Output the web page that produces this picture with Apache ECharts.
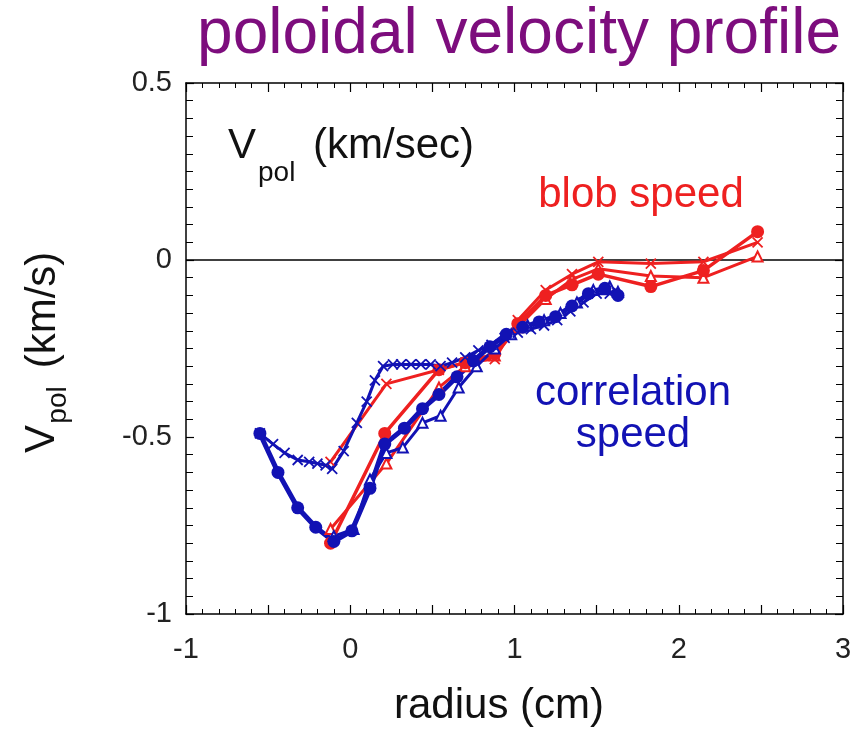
<!DOCTYPE html>
<html>
<head>
<meta charset="utf-8">
<script src="https://cdn.jsdelivr.net/npm/echarts@6/dist/echarts.min.js"></script>
<style>
html,body{margin:0;padding:0;background:#fff;}
#chart{width:859px;height:730px;}
</style>
</head>
<body>
<div id="chart"></div>
<script>
// ---- data (radius cm, V_pol km/s) ----
var xTicks = [-1, 0, 1, 2, 3];
var yTicks = [-1, -0.5, 0, 0.5];

var redCircle = [[-0.12,-0.80],[0.21,-0.49],[0.54,-0.31],[0.70,-0.29],[0.88,-0.265],[1.02,-0.18],[1.19,-0.10],[1.35,-0.07],[1.51,-0.04],[1.83,-0.075],[2.15,-0.03],[2.48,0.08]];
var redTriangle = [[-0.12,-0.76],[0.22,-0.575],[0.54,-0.36],[0.70,-0.30],[0.88,-0.27],[1.02,-0.19],[1.19,-0.11],[1.35,-0.055],[1.51,-0.025],[1.83,-0.045],[2.15,-0.05],[2.48,0.01]];
var redCross = [[-0.12,-0.57],[0.22,-0.35],[0.54,-0.31],[0.70,-0.29],[0.88,-0.28],[1.02,-0.17],[1.19,-0.085],[1.35,-0.04],[1.51,-0.005],[1.83,-0.01],[2.15,-0.005],[2.48,0.05]];

var blueCross = [[-0.55,-0.49],[-0.47,-0.52],[-0.40,-0.545],[-0.32,-0.565],[-0.25,-0.57],[-0.20,-0.575],[-0.15,-0.58],[-0.11,-0.59],[-0.04,-0.54],[0.04,-0.46],[0.10,-0.40],[0.15,-0.34],[0.20,-0.30],[0.26,-0.295],[0.31,-0.295],[0.37,-0.295],[0.43,-0.295],[0.49,-0.295],[0.55,-0.30],[0.62,-0.29],[0.70,-0.275],[0.78,-0.255],[0.86,-0.24],[0.94,-0.22],[1.02,-0.205],[1.10,-0.195],[1.18,-0.185],[1.26,-0.17],[1.34,-0.145],[1.42,-0.12],[1.50,-0.095],[1.58,-0.095]];
var blueCircle = [[-0.55,-0.49],[-0.44,-0.60],[-0.32,-0.70],[-0.21,-0.755],[-0.10,-0.795],[0.01,-0.765],[0.12,-0.645],[0.21,-0.52],[0.33,-0.475],[0.44,-0.42],[0.54,-0.38],[0.65,-0.33],[0.75,-0.285],[0.85,-0.245],[0.95,-0.21],[1.05,-0.19],[1.15,-0.175],[1.25,-0.16],[1.35,-0.13],[1.45,-0.095],[1.55,-0.08],[1.63,-0.10]];
var blueTriangle = [[-0.10,-0.78],[0.02,-0.76],[0.12,-0.62],[0.22,-0.545],[0.32,-0.53],[0.44,-0.46],[0.55,-0.44],[0.66,-0.36],[0.77,-0.30],[0.88,-0.25],[0.98,-0.21],[1.08,-0.185],[1.18,-0.17],[1.28,-0.15],[1.38,-0.12],[1.48,-0.085],[1.58,-0.075],[1.63,-0.09]];

var RED = '#ee2020';
var BLUE = '#1212b4';
var FONT = '"Liberation Sans", Arial, Helvetica, sans-serif';
var CROSS = 'path://M0,0L10,10M10,0L0,10';

function lineSeries(name, data, color, symbol, size, width, extra) {
  var s = {
    name: name, type: 'line', data: data,
    xAxisIndex: 0, yAxisIndex: 0,
    symbol: symbol, symbolSize: size, showSymbol: true,
    lineStyle: { color: color, width: width },
    itemStyle: { color: color, borderColor: color, borderWidth: symbol === CROSS ? 1.8 : (symbol.indexOf('empty') === 0 ? 1.8 : 0) },
    animation: false, z: 3
  };
  if (extra) for (var k in extra) s[k] = extra[k];
  return s;
}

var chart = echarts.init(document.getElementById('chart'), null, { renderer: 'canvas' });

var axisCommon = {
  axisLine: { show: true, onZero: false, lineStyle: { color: '#000', width: 1.5 } },
  splitLine: { show: false },
  minorSplitLine: { show: false }
};

var option = {
  backgroundColor: '#fff',
  animation: false,
  grid: { left: 186, right: 16, top: 83, bottom: 116, containLabel: false },
  xAxis: [
    Object.assign({}, axisCommon, {
      type: 'value', min: -1, max: 3, interval: 0.5, position: 'bottom',
      axisTick: { show: true, inside: true, length: 9, lineStyle: { color: '#000', width: 1.2 } },
      minorTick: { show: true, splitNumber: 5, length: 5, lineStyle: { color: '#000', width: 1 } },
      axisLabel: { show: true, margin: 21, color: '#222', fontSize: 29, fontFamily: FONT,
        formatter: function (v) { return xTicks.indexOf(v) >= 0 ? String(v) : ''; } }
    }),
    Object.assign({}, axisCommon, {
      type: 'value', min: -1, max: 3, interval: 0.5, position: 'top',
      axisTick: { show: true, inside: true, length: 9, lineStyle: { color: '#000', width: 1.2 } },
      minorTick: { show: true, splitNumber: 5, length: 5, lineStyle: { color: '#000', width: 1 } },
      axisLabel: { show: false }
    })
  ],
  yAxis: [
    Object.assign({}, axisCommon, {
      type: 'value', min: -1, max: 0.5, interval: 0.5, position: 'left',
      axisTick: { show: true, inside: true, length: 8, lineStyle: { color: '#000', width: 1.2 } },
      minorTick: { show: true, splitNumber: 10, length: 7, lineStyle: { color: '#000', width: 1 } },
      axisLabel: { show: true, margin: 14, color: '#222', fontSize: 29, fontFamily: FONT,
        formatter: function (v) { return yTicks.indexOf(v) >= 0 ? String(v) : ''; } }
    }),
    Object.assign({}, axisCommon, {
      type: 'value', min: -1, max: 0.5, interval: 0.5, position: 'right',
      axisTick: { show: true, inside: true, length: 8, lineStyle: { color: '#000', width: 1.2 } },
      minorTick: { show: true, splitNumber: 10, length: 7, lineStyle: { color: '#000', width: 1 } },
      axisLabel: { show: false }
    })
  ],
  series: [
    lineSeries('red triangle', redTriangle, RED, 'emptyTriangle', 10, 3),
    lineSeries('red cross', redCross, RED, CROSS, 10, 3),
    lineSeries('red circle', redCircle, RED, 'circle', 13, 3.5, {
      markLine: {
        silent: true, symbol: ['none', 'none'], label: { show: false },
        lineStyle: { color: '#000', width: 1.5, type: 'solid' },
        data: [{ yAxis: 0 }], z: 2
      }
    }),
    lineSeries('blue triangle', blueTriangle, BLUE, 'emptyTriangle', 10, 3),
    lineSeries('blue cross', blueCross, BLUE, CROSS, 10, 3),
    lineSeries('blue circle', blueCircle, BLUE, 'circle', 13, 5)
  ],
  graphic: [
    { type: 'text', right: 18, top: 3, style: { text: 'poloidal velocity profile', fill: '#7d0d7d', font: '64px ' + FONT } },
    { type: 'text', x: 228, y: 146, style: { text: 'V', fill: '#111', font: '42px ' + FONT, textAlign: 'left', textVerticalAlign: 'middle' } },
    { type: 'text', x: 258, y: 173, style: { text: 'pol', fill: '#111', font: '28px ' + FONT, textAlign: 'left', textVerticalAlign: 'middle' } },
    { type: 'text', x: 313, y: 146, style: { text: '(km/sec)', fill: '#111', font: '42px ' + FONT, textAlign: 'left', textVerticalAlign: 'middle' } },
    { type: 'text', x: 641, y: 195, style: { text: 'blob speed', fill: RED, font: '42px ' + FONT, textAlign: 'center', textVerticalAlign: 'middle' } },
    { type: 'text', x: 633, y: 393, style: { text: 'correlation', fill: BLUE, font: '42px ' + FONT, textAlign: 'center', textVerticalAlign: 'middle' } },
    { type: 'text', x: 633, y: 435, style: { text: 'speed', fill: BLUE, font: '42px ' + FONT, textAlign: 'center', textVerticalAlign: 'middle' } },
    { type: 'text', x: 499, y: 706, style: { text: 'radius (cm)', fill: '#111', font: '42px ' + FONT, textAlign: 'center', textVerticalAlign: 'middle' } },
    { type: 'text', x: 42, y: 439, rotation: Math.PI / 2, style: { text: 'V', fill: '#111', font: '42px ' + FONT, textAlign: 'center', textVerticalAlign: 'middle' } },
    { type: 'text', x: 58, y: 405, rotation: Math.PI / 2, style: { text: 'pol', fill: '#111', font: '28px ' + FONT, textAlign: 'center', textVerticalAlign: 'middle' } },
    { type: 'text', x: 43, y: 310, rotation: Math.PI / 2, style: { text: '(km/s)', fill: '#111', font: '42px ' + FONT, textAlign: 'center', textVerticalAlign: 'middle' } }
  ]
};
chart.setOption(option);
</script>
</body>
</html>
